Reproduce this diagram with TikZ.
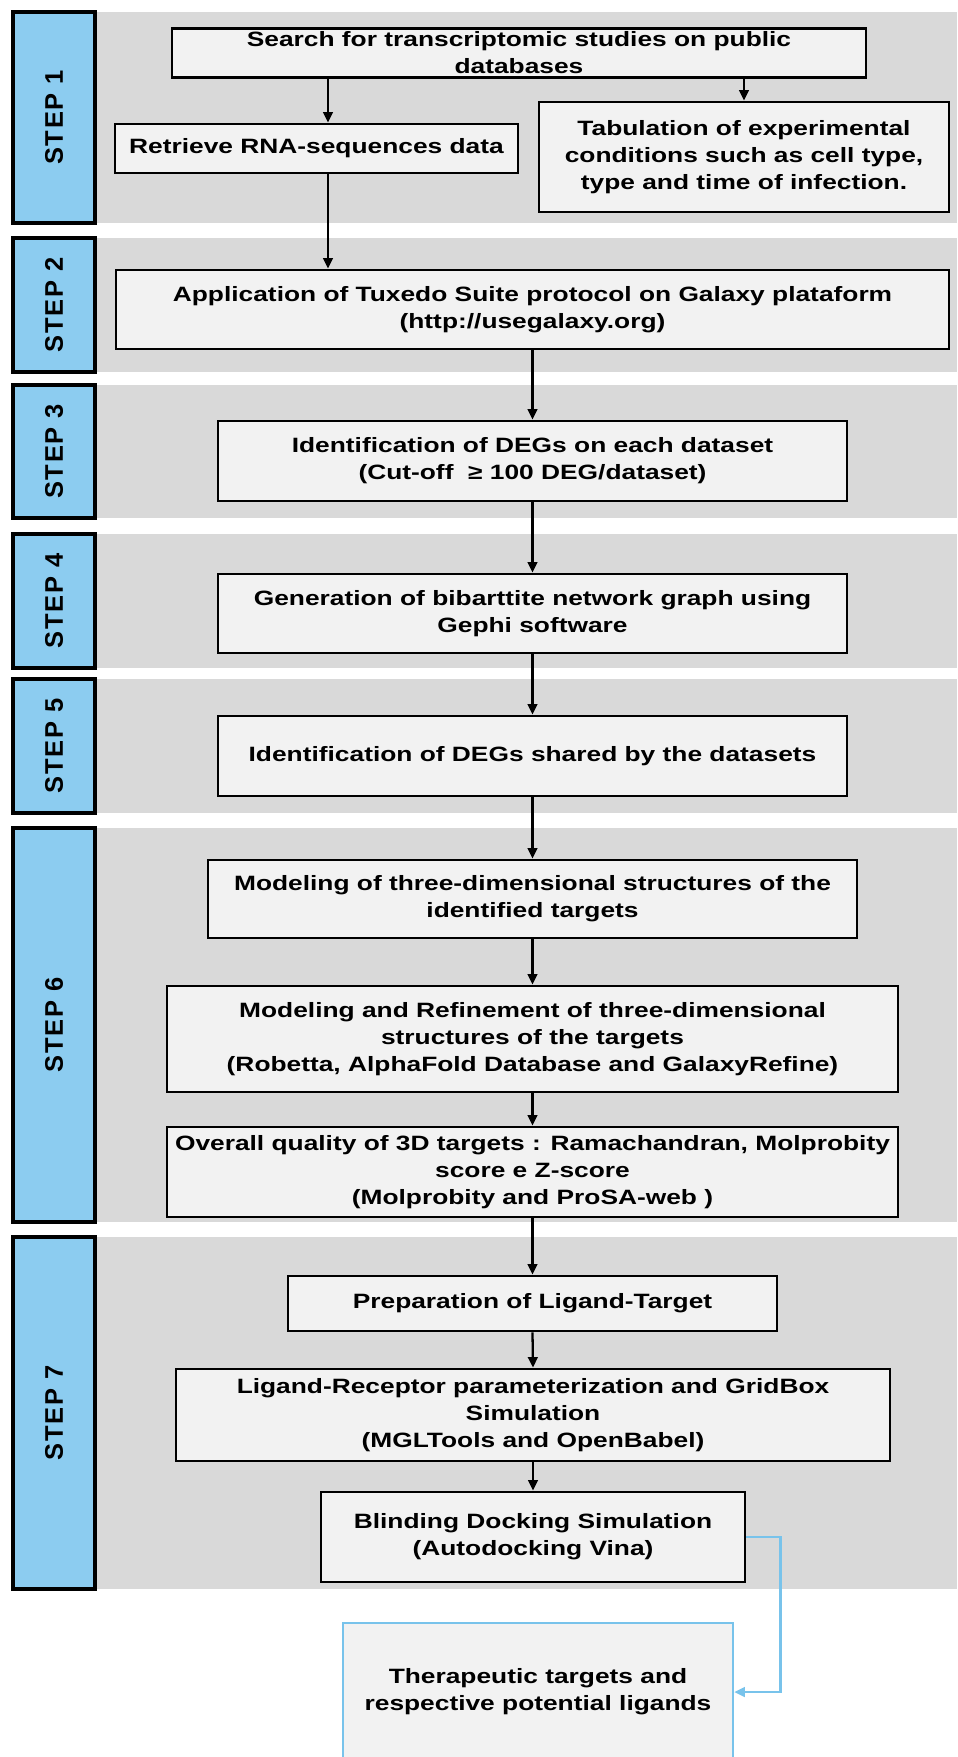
\documentclass[tikz,border=0pt]{standalone}
\usepackage{fontspec}
\newfontfamily\boxfont{Liberation Sans}[FakeStretch=1.27]
\newfontfamily\stepfont{Liberation Sans}[LetterSpace=7]
\usetikzlibrary{arrows.meta}

\definecolor{bandgray}{RGB}{217,217,217}
\definecolor{boxgray}{RGB}{242,242,242}
\definecolor{stepblue}{RGB}{140,204,240}
\definecolor{lineblue}{RGB}{120,195,235}

\tikzset{
  box/.style={draw=black, line width=1.6pt, fill=boxgray, align=center, inner sep=2pt,
    font=\boxfont\bfseries\fontsize{11.8}{15.3}\selectfont},
  stepbox/.style={draw=black, line width=2.4pt, fill=stepblue, rotate=90, minimum height=1.64cm,
    font=\stepfont\bfseries\fontsize{14.5}{16}\selectfont},
  arr/.style={-{Triangle[length=6pt,width=5.5pt]}, line width=1.3pt},
}

\begin{document}
\begin{tikzpicture}[x=0.02cm, y=-0.02cm]
    \useasboundingbox (0,0) rectangle (957,1757);

    % Bands and step labels
    \foreach \t/\b/\n in {12/223/1, 238/372/2, 385/518/3, 534/668/4, 679/813/5, 828/1222/6, 1237/1589/7}{
        \fill[bandgray] (60,\t) rectangle (957,\b);
        \node[stepbox, minimum width={(\b-\t)*0.02cm}] (step\n) at (54,{(\t+\b)/2}) {STEP \n};
    }

    % Step 1
    \node[box, minimum width=13.88cm, minimum height=0.96cm] (search) at (519,53) {Search for transcriptomic studies on public\\databases};
    \node[box, minimum width=8.06cm, minimum height=0.98cm] (ret) at (316.5,148.5) {Retrieve RNA-sequences data};
    \node[box, minimum width=8.2cm, minimum height=2.2cm] (tab) at (744,157) {Tabulation of experimental\\conditions such as cell type,\\type and time of infection.};

    % Step 2
    \node[box, minimum width=16.66cm, minimum height=1.58cm] (app) at (532.5,309.5) {Application of Tuxedo Suite protocol on Galaxy plataform\\(http://usegalaxy.org)};

    % Step 3
    \node[box, minimum width=12.58cm, minimum height=1.6cm] (ident) at (532.5,461) {Identification of DEGs on each dataset\\(Cut-off\ \ ≥ 100 DEG/dataset)};

    % Step 4
    \node[box, minimum width=12.58cm, minimum height=1.58cm] (gen) at (532.5,613.5) {Generation of bibarttite network graph using\\Gephi software};

    % Step 5
    \node[box, minimum width=12.58cm, minimum height=1.6cm] (shared) at (532.5,756) {Identification of DEGs shared by the datasets};

    % Step 6
    \node[box, minimum width=12.98cm, minimum height=1.56cm] (model) at (532.5,899) {Modeling of three-dimensional structures of the\\identified targets};
    \node[box, minimum width=14.62cm, minimum height=2.12cm] (modref) at (532.5,1039) {Modeling and Refinement of three-dimensional\\structures of the targets\\(Robetta, AlphaFold Database and GalaxyRefine)};
    \node[box, minimum width=14.62cm, minimum height=1.8cm] (overall) at (532.5,1172) {Overall quality of 3D targets : Ramachandran, Molprobity\\score e Z-score\\(Molprobity and ProSA-web\ )};

    % Step 7
    \node[box, minimum width=9.78cm, minimum height=1.1cm] (prep) at (532.5,1303.5) {Preparation of Ligand-Target};
    \node[box, minimum width=14.28cm, minimum height=1.84cm] (ligrec) at (533,1415) {Ligand-Receptor parameterization and GridBox\\Simulation\\(MGLTools and OpenBabel)};
    \node[box, minimum width=8.48cm, minimum height=1.8cm] (blind) at (533,1537) {Blinding Docking Simulation\\(Autodocking Vina)};

    % Result
    \node[box, draw=lineblue, line width=1.5pt, minimum width=7.8cm, minimum height=2.76cm] (ther) at (538,1692) {Therapeutic targets and\\respective potential ligands};

    % Arrows
    \coordinate (spine) at (328,0);
    \draw[arr] (search.south -| spine) -- (ret.north -| spine);
    \draw[arr] (search.south -| tab.north) -- (tab.north);
    \draw[arr] (ret.south -| spine) -- (app.north -| spine);
    \draw[arr] (app.south -| ident.north) -- (ident.north);
    \foreach \a/\b in {ident/gen, gen/shared, shared/model, model/modref, modref/overall, overall/prep, prep/ligrec, ligrec/blind}
        \draw[arr] (\a.south) -- (\b.north);
    \draw[arr, lineblue] (blind.east) -- ++(34,0) |- (ther.east);

\end{tikzpicture}
\end{document}
